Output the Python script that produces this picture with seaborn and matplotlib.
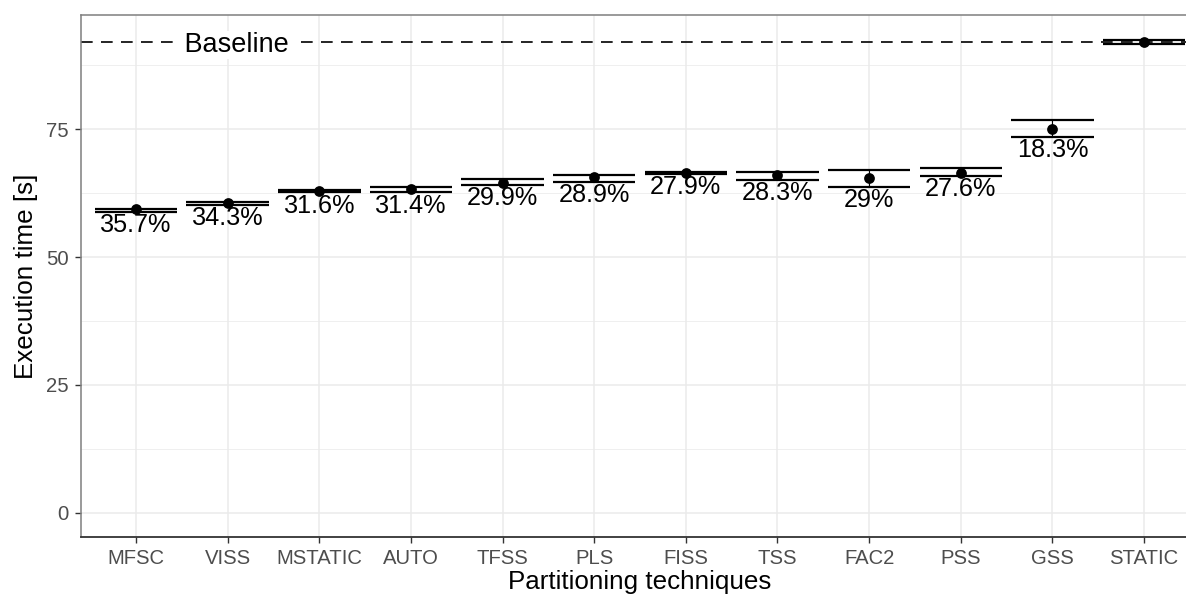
import numpy as np
import pandas as pd
import matplotlib
matplotlib.use("Agg")
import matplotlib.pyplot as plt
import seaborn as sns

techniques = ["MFSC", "VISS", "MSTATIC", "AUTO", "TFSS", "PLS", "FISS",
              "TSS", "FAC2", "PSS", "GSS", "STATIC"]
mean_time = [59.3, 60.5, 62.9, 63.2, 64.4, 65.6, 66.4, 66.0, 65.4, 66.5, 75.1, 92.0]
low_time = [58.8, 60.2, 62.6, 62.6, 64.1, 64.7, 66.2, 65.0, 63.7, 65.9, 73.5, 91.6]
high_time = [59.4, 60.7, 63.1, 63.6, 65.2, 66.0, 66.6, 66.7, 66.9, 67.4, 76.8, 92.4]
speedup_labels = ["35.7%", "34.3%", "31.6%", "31.4%", "29.9%", "28.9%", "27.9%",
                  "28.3%", "29%", "27.6%", "18.3%", ""]
baseline = 92.0
y_ticks = [0, 25, 50, 75]
y_minor = [12.5, 37.5, 62.5, 87.5]

df = pd.DataFrame({"technique": techniques, "mean": mean_time,
                   "low": low_time, "high": high_time, "label": speedup_labels})

sns.set_theme(style="white")
plt.rcParams["font.family"] = ["Liberation Sans", "DejaVu Sans"]

fig = plt.figure(figsize=(11.86, 5.99), dpi=100)
ax = fig.add_axes([81 / 1186, 62 / 599, 1118 / 1186, 522 / 599])

# grid
for yv in y_ticks:
    ax.axhline(yv, color="#EBEBEB", lw=1.1, zorder=0)
for yv in y_minor:
    ax.axhline(yv, color="#EBEBEB", lw=0.55, zorder=0)
for i in range(len(techniques)):
    ax.axvline(i, color="#EBEBEB", lw=1.1, zorder=0)

# baseline
ax.axhline(baseline, color="black", lw=1.2, dashes=(7, 5), zorder=1)
ax.text(1.1, baseline, " Baseline ", ha="center", va="center_baseline", fontsize=19.5,
        color="black", zorder=2,
        bbox=dict(boxstyle="square,pad=0.05", fc="white", ec="none"))

xpos = np.arange(len(techniques))
ax.vlines(xpos, df["low"], df["high"], color="black", lw=0.8, zorder=3)
ax.hlines(df["low"], xpos - 0.45, xpos + 0.45, color="black", lw=1.6, zorder=3)
ax.hlines(df["high"], xpos - 0.45, xpos + 0.45, color="black", lw=1.6, zorder=3)

sns.scatterplot(data=df, x="technique", y="mean", ax=ax, color="black",
                s=60, edgecolor="black", linewidth=0, zorder=4, legend=False)

for i, row in df.iterrows():
    if row["label"]:
        ax.text(i, row["low"] - 0.25, row["label"], ha="center", va="top",
                fontsize=18.2, color="black", zorder=5)

ax.set_xlim(-0.6, 11.6)
ax.set_ylim(-4.69, 97.27)
ax.set_yticks(y_ticks)
ax.set_xticks(xpos)
ax.set_xticklabels(techniques)

ax.tick_params(axis="both", colors="#333333", length=4.3, width=1.0,
               labelsize=14.6, labelcolor="#4D4D4D", pad=4.5)
ax.tick_params(axis="x", bottom=True)
ax.tick_params(axis="y", left=True)

ax.set_xlabel("Partitioning techniques", fontsize=18.7, color="black", labelpad=1)
ax.set_ylabel("Execution time [s]", fontsize=18.7, color="black", labelpad=6)

for side in ["top", "left"]:
    ax.spines[side].set_color("#7F7F7F")
    ax.spines[side].set_linewidth(1.1)
ax.spines["bottom"].set_color("#333333")
ax.spines["bottom"].set_linewidth(1.3)
ax.spines["right"].set_visible(False)

fig.savefig("out.png", dpi=100)
